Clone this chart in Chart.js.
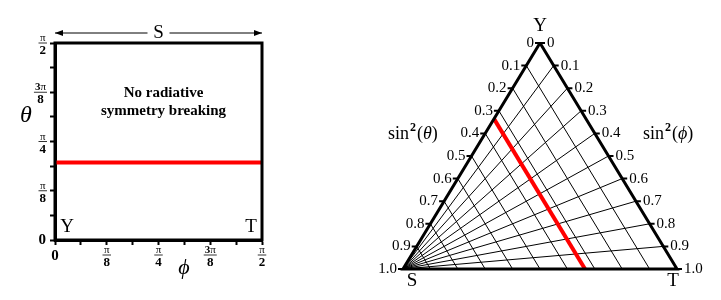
<!DOCTYPE html>
<html>
<head>
<meta charset="utf-8">
<script src="https://cdn.jsdelivr.net/npm/chart.js@4/dist/chart.umd.min.js"></script>
<style>
  html, body { margin: 0; padding: 0; background: #fff; }
  #wrap { position: relative; width: 721px; height: 300px; }
  canvas { position: absolute; top: 0; }
  #left  { left: 0; }
  #right { left: 360px; }
</style>
</head>
<body>
<div id="wrap">
  <canvas id="left" width="300" height="300"></canvas>
  <canvas id="right" width="361" height="300"></canvas>
</div>
<script>
/* ── données ─────────────────────────────── */
const PI = Math.PI;

// panneau gauche : graduations en pas de pi/16, étiquettes tous les pi/8
const angleSteps  = [0, 1, 2, 3, 4, 5, 6, 7, 8];
const angleLabels = [['0'], null, ['π', '8'], null, ['π', '4'], null, ['3', 'π', '8'], null, ['π', '2']];
const redTheta    = 0.618;           // rad, ligne rouge
const phiRange    = [0, PI / 2];

// panneau droit : coordonnées sin²(θ) / sin²(φ)
const gridVals   = [0.1, 0.2, 0.3, 0.4, 0.5, 0.6, 0.7, 0.8, 0.9];
const edgeTicks  = [0, 0.1, 0.2, 0.3, 0.4, 0.5, 0.6, 0.7, 0.8, 0.9, 1.0];
const edgeLabels = ['0', '0.1', '0.2', '0.3', '0.4', '0.5', '0.6', '0.7', '0.8', '0.9', '1.0'];
const redSin2    = Math.sin(redTheta) ** 2;

const SERIF = '"Liberation Serif", "DejaVu Serif", serif';

/* ── panneau gauche ──────────────────────── */
// lab = [coef?, 'π', dénominateur]
function drawFrac(ctx, lab, x, y, align) {
  const den = lab[lab.length - 1];
  const coef = lab.length === 3 ? lab[0] : '';
  ctx.font = 'bold 11px ' + SERIF;
  const wc = coef ? ctx.measureText(coef).width : 0;
  ctx.font = '11px ' + SERIF;
  const wp = ctx.measureText('π').width;
  const wn = wc + wp;
  ctx.font = 'bold 13px ' + SERIF;
  const wd = ctx.measureText(den).width;
  const w = Math.max(wn, wd) + 2;
  const cx = align === 'right' ? x - w / 2 : x;
  ctx.strokeStyle = '#000';
  ctx.lineWidth = 0.8;
  ctx.beginPath();
  ctx.moveTo(cx - w / 2, y);
  ctx.lineTo(cx + w / 2, y);
  ctx.stroke();
  ctx.textBaseline = 'alphabetic';
  ctx.textAlign = 'left';
  if (coef) {
    ctx.font = 'bold 11px ' + SERIF;
    ctx.fillText(coef, cx - wn / 2, y - 2);
  }
  ctx.font = '11px ' + SERIF;
  ctx.fillText('π', cx - wn / 2 + wc, y - 2);
  ctx.textAlign = 'center';
  ctx.font = 'bold 13px ' + SERIF;
  ctx.fillText(den, cx, y + 11);
}

const leftDecor = {
  id: 'leftDecor',
  afterDatasetsDraw(chart) {
    const { ctx, chartArea: a, scales: { x, y } } = chart;
    ctx.save();
    ctx.fillStyle = '#000';
    ctx.strokeStyle = '#000';
    ctx.lineWidth = 3;
    ctx.strokeRect(a.left, a.top, a.right - a.left, a.bottom - a.top);

    // étiquettes des axes
    angleSteps.forEach((k, i) => {
      const lab = angleLabels[i];
      if (!lab) return;
      const v = k * PI / 16;
      const py = y.getPixelForValue(v);
      const px = x.getPixelForValue(v);
      if (lab.length === 1) {
        ctx.font = 'bold 15px ' + SERIF;
        ctx.textAlign = 'right'; ctx.textBaseline = 'middle';
        ctx.fillText(lab[0], a.left - 9, py);
        ctx.textAlign = 'center';
        ctx.fillText(lab[0], px, 256);
      } else {
        drawFrac(ctx, lab, a.left - 8, py, 'right');
        drawFrac(ctx, lab, px, 255, 'center');
      }
    });

    ctx.font = 'italic 24px ' + SERIF;
    ctx.textAlign = 'center'; ctx.textBaseline = 'middle';
    ctx.fillText('θ', 26, 116);
    ctx.font = 'italic 22px ' + SERIF;
    ctx.fillText('ϕ', 184, 268);

    // flèche S
    const ay = 33, mid = (a.left + a.right) / 2;
    ctx.lineWidth = 1;
    ctx.beginPath();
    ctx.moveTo(a.left, ay); ctx.lineTo(mid - 11, ay);
    ctx.moveTo(mid + 11, ay); ctx.lineTo(a.right, ay);
    ctx.stroke();
    [[a.left, 1], [a.right, -1]].forEach(([ex, d]) => {
      ctx.beginPath();
      ctx.moveTo(ex, ay);
      ctx.lineTo(ex + d * 8, ay - 3);
      ctx.lineTo(ex + d * 8, ay + 3);
      ctx.closePath();
      ctx.fill();
    });
    ctx.font = '19px ' + SERIF;
    ctx.fillText('S', mid, ay);
    ctx.fillText('Y', a.left + 12, 227);
    ctx.fillText('T', a.right - 11, 227);

    ctx.font = 'bold 15px ' + SERIF;
    ctx.fillText('No radiative', mid + 5, 93);
    ctx.fillText('symmetry breaking', mid + 5, 111);
    ctx.restore();
  }
};

const angleAxis = (side) => ({
  type: 'linear',
  min: phiRange[0],
  max: phiRange[1],
  afterBuildTicks: s => { s.ticks = angleSteps.map(k => ({ value: k * PI / 16 })); },
  afterFit: s => { if (side === 'y') s.width = 55; else s.height = 60; },
  ticks: { callback: () => '', font: { size: 1 } },
  grid: { drawOnChartArea: false, drawTicks: true, tickLength: 5, tickWidth: 2, tickColor: '#000' },
  border: { display: true, width: 3, color: '#000' }
});

new Chart(document.getElementById('left'), {
  type: 'line',
  data: {
    datasets: [{
      data: [{ x: phiRange[0], y: redTheta }, { x: phiRange[1], y: redTheta }],
      borderColor: '#ff0000',
      borderWidth: 4,
      pointRadius: 0,
      clip: false
    }]
  },
  options: {
    responsive: false,
    animation: false,
    layout: { padding: { top: 43, right: 38, left: 0, bottom: 0 } },
    plugins: { legend: { display: false }, tooltip: { enabled: false } },
    scales: { x: angleAxis('x'), y: angleAxis('y') }
  },
  plugins: [leftDecor]
});

/* ── panneau droit : triangle ────────────── */
// a = sin²θ (côté Y→S), b = sin²φ (côté Y→T)
const tri = (a, b) => ({ x: (1 - a) * (0.5 + 0.5 * b), y: (1 - a) * (1 - b) });

const seg = (p, q, color, width, order) => ({
  data: [p, q], showLine: true, borderColor: color, borderWidth: width,
  pointRadius: 0, clip: false, order
});

const datasets = [
  // bords du triangle
  { data: [tri(0, 0), tri(1, 0), tri(0, 1), tri(0, 0)], showLine: true, borderColor: '#000',
    borderWidth: 3, pointRadius: 0, clip: false, order: 0 },
  seg(tri(redSin2, 0), tri(redSin2, 1), '#ff0000', 4, 1)
];
gridVals.forEach(g => {
  datasets.push(seg(tri(g, 0), tri(g, 1), '#000', 1, 2));   // θ constant
  datasets.push(seg(tri(0, g), tri(1, g), '#000', 1, 2));   // φ constant
});

const rightDecor = {
  id: 'rightDecor',
  afterDatasetsDraw(chart) {
    const { ctx, scales: { x, y } } = chart;
    const px = p => [x.getPixelForValue(p.x), y.getPixelForValue(p.y)];
    ctx.save();
    ctx.fillStyle = '#000';
    ctx.strokeStyle = '#000';
    ctx.lineWidth = 2;
    ctx.font = '15px ' + SERIF;
    ctx.textBaseline = 'middle';
    edgeTicks.forEach((t, i) => {
      const [lx, ly] = px(tri(t, 0));
      const [rx, ry] = px(tri(0, t));
      ctx.beginPath();
      ctx.moveTo(lx - 5, ly); ctx.lineTo(lx + 1, ly);
      ctx.moveTo(rx - 1, ry); ctx.lineTo(rx + 5, ry);
      ctx.stroke();
      ctx.textAlign = 'right';
      ctx.fillText(edgeLabels[i], lx - 6, ly);
      ctx.textAlign = 'left';
      ctx.fillText(edgeLabels[i], rx + 7, ry);
    });

    ctx.font = '19px ' + SERIF;
    ctx.textAlign = 'center';
    const [yx, yy] = px(tri(0, 0));
    const [sx, sy] = px(tri(1, 0));
    const [tx, ty] = px(tri(0, 1));
    ctx.fillText('Y', yx, yy - 17);
    ctx.fillText('S', sx + 9, sy + 12);
    ctx.fillText('T', tx - 4, ty + 12);

    // sin²(θ), sin²(φ)
    const sinLabel = (sym, x0, y0) => {
      let cx = x0;
      ctx.textAlign = 'left';
      ctx.font = '18px ' + SERIF;
      ctx.fillText('sin', cx, y0); cx += ctx.measureText('sin').width + 1;
      ctx.font = 'bold 12px ' + SERIF;
      ctx.fillText('2', cx, y0 - 6); cx += ctx.measureText('2').width + 1;
      ctx.font = '18px ' + SERIF;
      ctx.fillText('(', cx, y0); cx += ctx.measureText('(').width;
      ctx.font = 'italic 18px ' + SERIF;
      ctx.fillText(sym, cx, y0); cx += ctx.measureText(sym).width;
      ctx.font = '18px ' + SERIF;
      ctx.fillText(')', cx, y0);
    };
    sinLabel('θ', 28, 134);
    sinLabel('ϕ', 283, 134);
    ctx.restore();
  }
};

new Chart(document.getElementById('right'), {
  type: 'scatter',
  data: { datasets },
  options: {
    responsive: false,
    animation: false,
    layout: { padding: { left: 43, right: 44, top: 43, bottom: 31 } },
    plugins: { legend: { display: false }, tooltip: { enabled: false } },
    scales: {
      x: { type: 'linear', min: 0, max: 1, display: false },
      y: { type: 'linear', min: 0, max: 1, display: false }
    }
  },
  plugins: [rightDecor]
});
</script>
</body>
</html>
